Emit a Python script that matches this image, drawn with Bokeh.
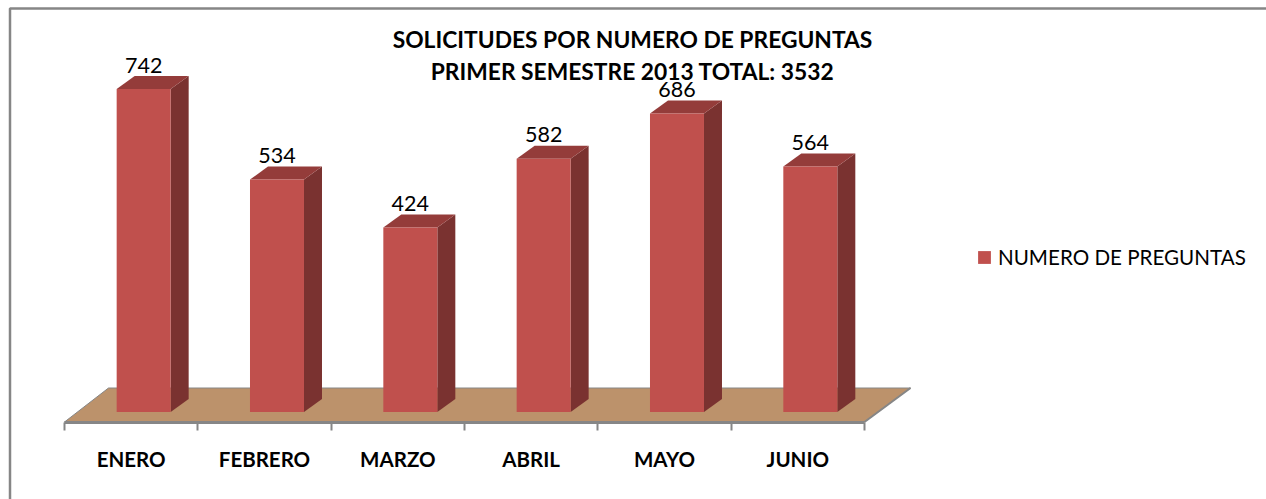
from bokeh.plotting import figure
from bokeh.embed import file_html
from bokeh.resources import INLINE
from bokeh.core.properties import value
from bokeh.models import LinearAxis, FixedTicker, Legend, LegendItem, Range1d

categories = ["ENERO", "FEBRERO", "MARZO", "ABRIL", "MAYO", "JUNIO"]
preguntas = [742, 534, 424, 582, 686, 564]
series_name = "NUMERO DE PREGUNTAS"
title_lines = ["SOLICITUDES POR NUMERO DE PREGUNTAS", "PRIMER SEMESTRE 2013 TOTAL: 3532"]

W, H = 1266, 499
PX_PER_CAT = 133.33
PX_PER_VAL = 0.4353
X0_PX, BASE_PX = 64, 411.5  # page px of category origin and value zero


def dx(px):
    return px / PX_PER_CAT


def dy(px):
    return px / PX_PER_VAL


x_range = Range1d(-X0_PX / PX_PER_CAT, (W - X0_PX) / PX_PER_CAT)
y_range = Range1d((BASE_PX - H) / PX_PER_VAL, BASE_PX / PX_PER_VAL)

p = figure(width=W, height=H, x_range=x_range, y_range=y_range, output_backend="svg",
           toolbar_location=None, min_border=0, x_axis_type=None, y_axis_type=None,
           outline_line_color=None, background_fill_color="white")
p.grid.visible = False

# chart area frame: left and top edges run off the window
frame_l, frame_r = dx(9.5 - X0_PX), dx(W - X0_PX)
frame_t, frame_b = dy(BASE_PX - 8), dy(BASE_PX - H)
p.line([frame_l, frame_l, frame_r], [frame_b, frame_t, frame_t], line_color="#868686", line_width=2.5)

# floor
n = len(categories)
floor_front = dy(-10)
floor_back = dy(24)
p.patch([0, n, dx(864 - 64 + 46), dx(108 - 64)],
        [floor_front, floor_front, floor_back, floor_back],
        fill_color="#BC926B", line_color="#868686", line_width=1)
p.line([n, dx(864 - 64 + 46)], [floor_front, floor_back], line_color="#868686", line_width=2)

# axis
axis = LinearAxis(
    ticker=FixedTicker(ticks=[i + 0.5 for i in range(n)], minor_ticks=list(range(n + 1))),
    major_label_overrides={i + 0.5: c for i, c in enumerate(categories)},
    fixed_location=floor_front, bounds=(0, n),
    axis_line_color="#868686", axis_line_width=3,
    major_tick_line_color=None, major_tick_in=0, major_tick_out=0,
    minor_tick_line_color="#868686", minor_tick_line_width=2, minor_tick_in=0, minor_tick_out=8,
    major_label_standoff=17,
    major_label_text_font="Lato", major_label_text_font_style="bold",
    major_label_text_font_size="20.5px", major_label_text_color="#000000",
)
p.add_layout(axis, "below")

# bars
BAR_W = dx(54)
OFF = dx(12.5)
DEPTH_X, DEPTH_Y = dx(18), dy(13)
centers = [i + 0.5 + OFF for i in range(n)]
lefts = [c - BAR_W / 2 for c in centers]
rights = [c + BAR_W / 2 for c in centers]

p.patches([[r, r + DEPTH_X, r + DEPTH_X, r] for r in rights],
          [[0, DEPTH_Y, v + DEPTH_Y, v] for v in preguntas],
          fill_color="#7A3230", line_color=None)
p.patches([[l, r, r + DEPTH_X, l + DEPTH_X] for l, r in zip(lefts, rights)],
          [[v, v, v + DEPTH_Y, v + DEPTH_Y] for v in preguntas],
          fill_color="#943C3A", line_color=None)
front = p.vbar(x=centers, top=preguntas, bottom=0, width=BAR_W,
               fill_color="#C0504D", line_color=None)

# value labels
p.text(x=centers, y=[v + dy(24) for v in preguntas],
       text=[str(v) for v in preguntas], text_align="center", text_baseline="middle",
       text_font=value("Lato"), text_font_size="21.5px", text_color="#000000")

# title
title_x = dx(632 - 64)
p.text(x=[title_x, title_x], y=[dy(BASE_PX - 38), dy(BASE_PX - 70.5)], text=title_lines,
       text_align="center", text_baseline="middle", text_font=value("Lato"),
       text_font_style="bold", text_font_size="22.8px", text_color="#000000")

# legend
legend = Legend(items=[LegendItem(label=series_name, renderers=[front])],
                location=(976, 230), border_line_color=None, background_fill_alpha=0,
                glyph_width=16, glyph_height=16, label_text_font="Lato",
                label_text_font_size="20.6px", label_text_color="#000000",
                padding=0, margin=0, label_standoff=6)
p.add_layout(legend, "center")

open("out.html", "w").write(file_html(p, INLINE))
